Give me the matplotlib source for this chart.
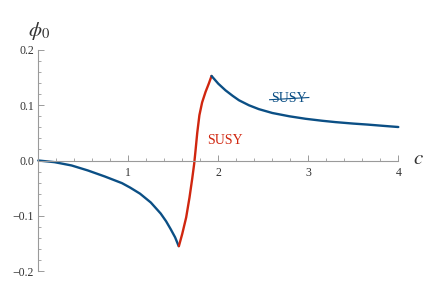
import matplotlib
matplotlib.use("Agg")
import matplotlib.pyplot as plt

# phi_0 versus c
c_left = [0.0, 0.18, 0.37, 0.55, 0.74, 0.93, 1.02, 1.13, 1.25, 1.36, 1.42, 1.47, 1.52, 1.56]
phi_left = [0.0, -0.003, -0.009, -0.018, -0.029, -0.041, -0.049, -0.060, -0.076, -0.096,
            -0.110, -0.124, -0.139, -0.155]

c_mid = [1.562, 1.599, 1.643, 1.68, 1.71, 1.732, 1.747, 1.766, 1.79, 1.82, 1.858, 1.894, 1.925]
phi_mid = [-0.155, -0.133, -0.103, -0.067, -0.033, -0.006, 0.018, 0.050, 0.082, 0.105, 0.124, 0.139, 0.153]

c_right = [1.925, 2.0, 2.08, 2.16, 2.23, 2.34, 2.45, 2.6, 2.79, 2.97, 3.15, 3.3, 3.5, 3.66, 3.85, 4.0]
phi_right = [0.153, 0.139, 0.127, 0.117, 0.109, 0.100, 0.093, 0.086, 0.080, 0.0755, 0.072, 0.0695,
             0.0668, 0.065, 0.0625, 0.0606]

x_ticks = [1, 2, 3, 4]
y_ticks = [-0.2, -0.1, 0.0, 0.1, 0.2]

blue = '#0b4f85'
red = '#d0260f'
grey = '#9a9a9a'

plt.rcParams['font.family'] = ['Liberation Serif', 'DejaVu Serif']
plt.rcParams['mathtext.fontset'] = 'stix'

fig = plt.figure(figsize=(4.37, 2.91), dpi=100)
ax = fig.add_axes([38.3 / 437, 20 / 291, 360 / 437, 221 / 291])

style = dict(lw=1.7, solid_capstyle='round', solid_joinstyle='round', clip_on=False)
ax.plot(c_left, phi_left, color=blue, **style)
ax.plot(c_mid, phi_mid, color=red, **style)
ax.plot(c_right, phi_right, color=blue, **style)

ax.set_xlim(0, 4)
ax.set_ylim(-0.2, 0.2)

for side in ['top', 'right']:
    ax.spines[side].set_visible(False)
ax.spines['bottom'].set_position(('data', 0))
for side in ['bottom', 'left']:
    ax.spines[side].set_color(grey)
    ax.spines[side].set_linewidth(0.8)

ax.set_xticks(x_ticks)
ax.set_xticklabels([str(t) for t in x_ticks])
ax.set_xticks([i * 0.2 for i in range(1, 20) if i % 5 != 0], minor=True)
ax.set_yticks(y_ticks)
ax.set_yticklabels([f'{t:.1f}'.replace('-', '\u2212') for t in y_ticks])
ax.set_yticks([round(-0.2 + i * 0.02, 2) for i in range(21) if i % 5 != 0], minor=True)

ax.tick_params(which='both', direction='in', color=grey, labelsize=8.5, labelcolor='#333333')
ax.tick_params(which='major', length=4, width=0.7, pad=5)
ax.tick_params(axis='y', which='major', pad=3)
ax.tick_params(which='minor', length=2.5, width=0.6)

ax.text(-0.11, 0.235, r'$\phi_0$', fontsize=15, color='#333333', ha='left', va='center', clip_on=False)
ax.text(4.22, 0.002, r'$c$', fontsize=15, color='#333333', ha='center', va='center', clip_on=False)

ax.text(1.88, 0.037, 'SUSY', color=red, fontsize=10, ha='left', va='center')
t = ax.text(2.59, 0.112, 'SUSY', color=blue, fontsize=10, ha='left', va='center')

# strike through the second label
fig.canvas.draw()
bb = t.get_window_extent().transformed(ax.transData.inverted())
ymid = (bb.y0 + bb.y1) / 2 - 0.002
ax.plot([bb.x0 - 0.02, bb.x1 + 0.02], [ymid, ymid + 0.004], color=blue, lw=0.8)

fig.savefig('out.png', dpi=100)
